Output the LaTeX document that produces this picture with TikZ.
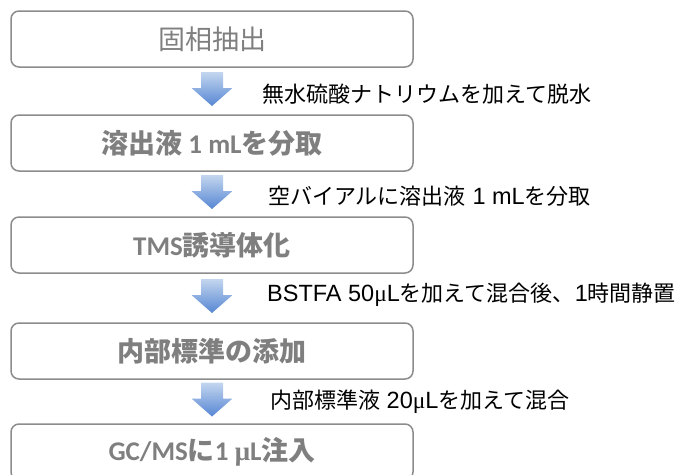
\documentclass[tikz,border=0pt]{standalone}
\usepackage{fontspec}
\setmainfont{Liberation Sans}
\newfontfamily\jp{Noto Sans CJK JP}
\newfontfamily\carl{Carlito}
\newfontfamily\mufont{Liberation Serif}
\newcommand\jl{\jp\fontsize{22}{26}\selectfont}
\usetikzlibrary{calc}
\definecolor{boxgray}{HTML}{8C8C8C}
\definecolor{textgray}{HTML}{7F7F7F}
\definecolor{arrtop}{HTML}{C3D6EF}
\definecolor{arrbot}{HTML}{5686D3}
\tikzset{
  boxstyle/.style={draw=boxgray, line width=1.5pt, rounded corners=8pt,
    minimum width=402pt, minimum height=56pt, inner sep=0pt, text=textgray,
    font=\fontsize{27}{32}\selectfont},
  boldbox/.style={boxstyle, font=\fontsize{27}{32}\selectfont\bfseries},
  lab/.style={anchor=west, inner sep=0pt, text=black,
    font=\fontsize{23.5}{28}\selectfont},
  blockarrow/.style={top color=arrtop, bottom color=arrbot, draw=none}
}
\newcommand\downarrowat[1]{%
  \shade[blockarrow, shift={(#1)}]
    (-11,-19) -- (11,-19) -- (11,-3) -- (20.5,-3) -- (0,15) -- (-20.5,-3) -- (-11,-3) -- cycle;}
\begin{document}
\begin{tikzpicture}[x=1pt,y=-1pt]
\useasboundingbox (0,0) rectangle (688,474);
\clip (0,0) rectangle (688,474);
\node[boxstyle] (b1) at (212,39) {\jp 固相抽出};
\node[boldbox] (b2) at (212,143)
  {{\jp 溶出液}{\carl\ 1 mL}{\jp を分取}};
\node[boldbox] (b3) at (212,245)
  {{\carl TMS}{\jp 誘導体化}};
\node[boldbox] (b4) at (212,351)
  {\jp 内部標準の添加};
\node[boldbox] (b5) at (212,452)
  {{\carl GC/MS}{\jp に}{\carl 1 }{\mufont μ}{\carl L}{\jp 注入}};
\coordinate (a1) at ($(b1.south)!0.5!(b2.north)$);
\coordinate (a2) at ($(b2.south)!0.5!(b3.north)$);
\coordinate (a3) at ($(b3.south)!0.5!(b4.north)$);
\coordinate (a4) at ($(b4.south)!0.5!(b5.north)$);
\downarrowat{a1}
\downarrowat{a2}
\downarrowat{a3}
\downarrowat{a4}
\node[lab] (l1) at (262,94) {\jl 無水硫酸ナトリウムを加えて脱水};
\node[lab] (l2) at (268,196) {{\jl 空バイアルに溶出液} 1 mL{\jl を分取}};
\node[lab] (l3) at (267,295) {BSTFA 50{\mufont μ}L{\jl を加えて混合後、}1{\jl 時間静置}};
\node[lab] (l4) at (270,402) {{\jl 内部標準液} 20{\mufont μ}L{\jl を加えて混合}};
\end{tikzpicture}
\end{document}
